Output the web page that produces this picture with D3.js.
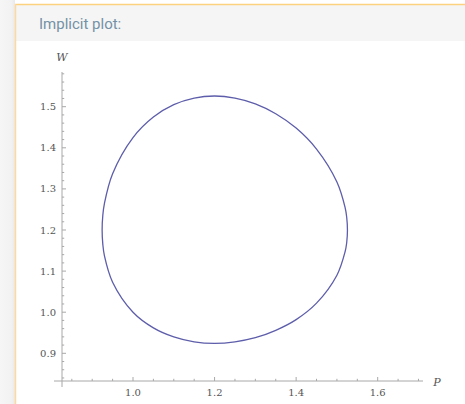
<!DOCTYPE html>
<html><head><meta charset="utf-8">
<script src="https://cdn.jsdelivr.net/npm/d3@7"></script>
<style>html,body{margin:0;padding:0;background:#fff;}svg{display:block;}</style>
</head><body>
<svg id="c" width="465" height="404"></svg>
<script>
// ---- data ----
const title = "Implicit plot:";
const xLabel = "P";
const yLabel = "W";
const xTickLabels = [1.0, 1.2, 1.4, 1.6];
const yTickLabels = [0.9, 1.0, 1.1, 1.2, 1.3, 1.4, 1.5];
// closed curve, points traced around the loop
const curveP = [0.9243,0.926,0.93,0.95,1.0,1.05,1.1,1.15,1.2,1.25,1.3,1.35,1.4,1.45,1.5,1.52,1.524,1.5258,
                1.524,1.52,1.5,1.45,1.4,1.35,1.3,1.25,1.2,1.15,1.1,1.05,1.0,0.95,0.93,0.926];
const curveW = [1.2,1.165,1.137,1.073,1.0,0.962,0.940,0.928,0.9243,0.928,0.938,0.956,0.982,1.022,1.090,1.147,1.169,1.2,
                1.231,1.255,1.317,1.397,1.448,1.483,1.507,1.521,1.526,1.521,1.505,1.475,1.425,1.337,1.265,1.236];

const svg = d3.select("#c");
// page frame
const defs = svg.append("defs");
const lg = defs.append("linearGradient").attr("id","side").attr("x1","0").attr("x2","1");
lg.append("stop").attr("offset","0").attr("stop-color","#f6f6f6");
lg.append("stop").attr("offset","0.75").attr("stop-color","#f2f2f2");
lg.append("stop").attr("offset","1").attr("stop-color","#e9e9e9");
svg.append("rect").attr("x",0).attr("y",0).attr("width",15).attr("height",404).attr("fill","url(#side)");
svg.append("rect").attr("x",15).attr("y",4).attr("width",450).attr("height",37).attr("fill","#f5f5f5");
svg.append("line").attr("x1",15).attr("x2",465).attr("y1",4.5).attr("y2",4.5).attr("stroke","#fdd27f").attr("stroke-width",1.5);
svg.append("line").attr("x1",15.5).attr("x2",15.5).attr("y1",4).attr("y2",404).attr("stroke","#fdd9a0").attr("stroke-width",1.5);
svg.append("text").attr("x",39).attr("y",29).text(title)
  .attr("font-family","Roboto").attr("font-size",15).attr("fill","#7491a6");

// scales
const x = d3.scaleLinear().domain([1.0, 1.6]).range([133, 377.7]);
const y = d3.scaleLinear().domain([0.9, 1.5]).range([353.3, 106.7]);
const x0 = x.invert(62), y0 = y.invert(381);
const xMax = x.invert(423), yMax = y.invert(72);

const axisCol = "#a8a8a8";
const g = svg.append("g");
// axis lines
g.append("line").attr("x1", x(x0)-8).attr("x2", x(xMax)).attr("y1", y(y0)).attr("y2", y(y0)).attr("stroke", axisCol);
g.append("line").attr("x1", x(x0)).attr("x2", x(x0)).attr("y1", y(y0)+6).attr("y2", y(yMax)).attr("stroke", axisCol);

// x ticks
const xMinor = d3.range(0.85, 1.71, 0.05).map(v => +v.toFixed(2));
g.selectAll(".xt").data(xMinor).join("line")
  .attr("x1", d => x(d)).attr("x2", d => x(d))
  .attr("y1", y(y0)).attr("y2", d => y(y0) - (xTickLabels.some(t => Math.abs(t-d)<1e-6) ? 4 : 2.2))
  .attr("stroke", axisCol);
g.selectAll(".xl").data(xTickLabels).join("text")
  .attr("x", d => x(d)).attr("y", 396).attr("text-anchor","middle")
  .attr("font-family","DejaVu Serif").attr("font-size",10).attr("fill","#555")
  .text(d => d.toFixed(1));

// y ticks
const yMinor = d3.range(0.84, 1.585, 0.02).map(v => +v.toFixed(2));
g.selectAll(".yt").data(yMinor).join("line")
  .attr("y1", d => y(d)).attr("y2", d => y(d))
  .attr("x1", x(x0)).attr("x2", d => x(x0) + (yTickLabels.some(t => Math.abs(t-d)<1e-6) ? 4 : 2.2))
  .attr("stroke", axisCol);
g.selectAll(".yl").data(yTickLabels).join("text")
  .attr("x", 56).attr("y", d => y(d)).attr("dy","0.35em").attr("text-anchor","end")
  .attr("font-family","DejaVu Serif").attr("font-size",10).attr("fill","#555")
  .text(d => d.toFixed(1));

// axis labels
g.append("text").attr("x", x(x0)).attr("y", 61).attr("text-anchor","middle")
  .attr("font-family","DejaVu Serif").attr("font-style","italic").attr("font-size",11).attr("fill","#555").text(yLabel);
g.append("text").attr("x", 437).attr("y", 386).attr("text-anchor","middle")
  .attr("font-family","DejaVu Serif").attr("font-style","italic").attr("font-size",11).attr("fill","#555").text(xLabel);

// curve
const pts = curveP.map((p,i) => [p, curveW[i]]);
const line = d3.line().x(d => x(d[0])).y(d => y(d[1])).curve(d3.curveCatmullRomClosed.alpha(0.5));
g.append("path").attr("d", line(pts)).attr("fill","none").attr("stroke","#5d5dab").attr("stroke-width",1.3);
</script>
</body></html>
